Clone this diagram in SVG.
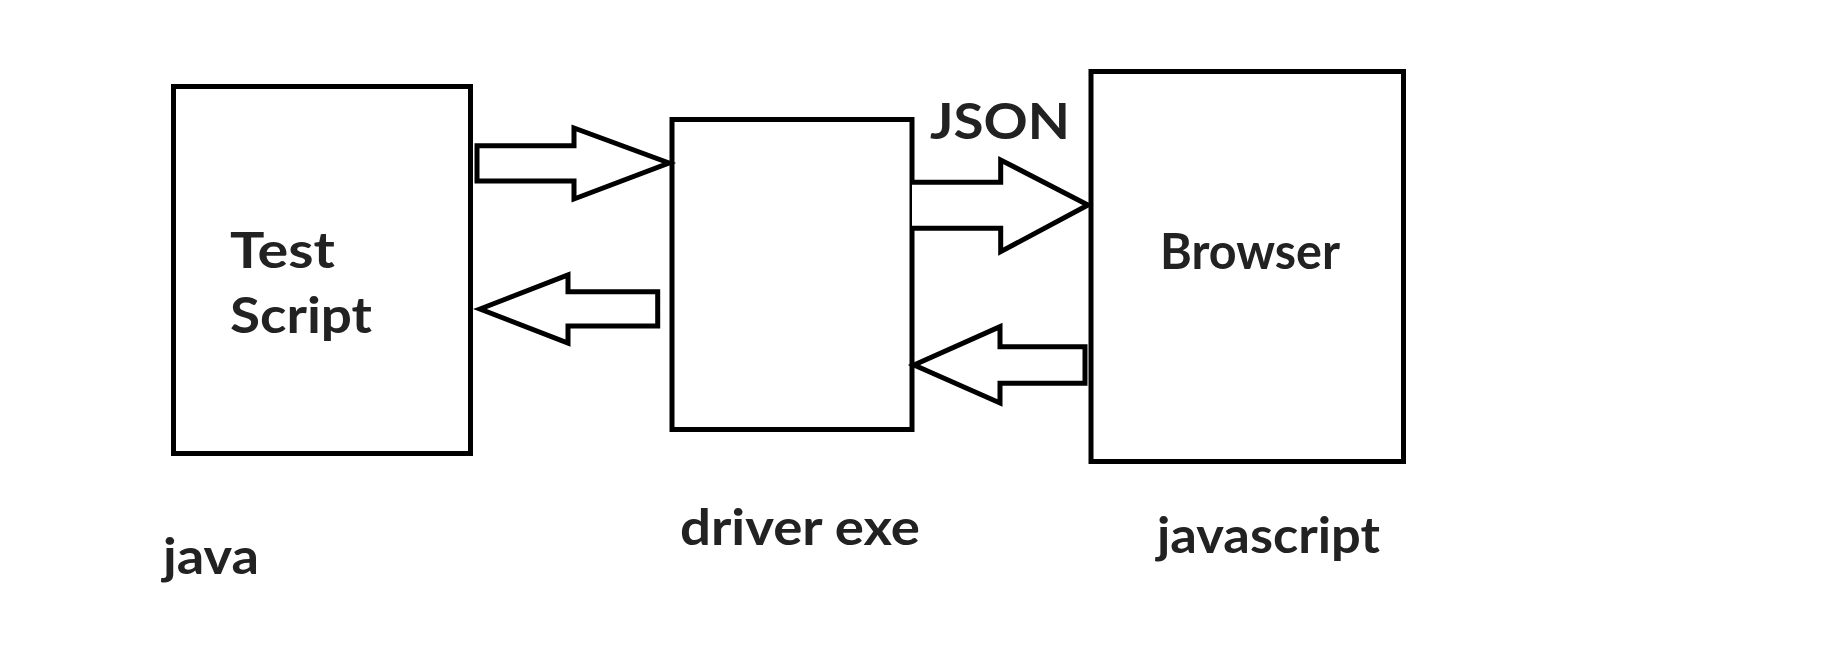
<svg xmlns="http://www.w3.org/2000/svg" width="1828" height="648" viewBox="0 0 1828 648">
<style>
.box{fill:#fff;stroke:#000;stroke-width:5}
.arr{fill:#fff;stroke:#000;stroke-width:5;stroke-linejoin:miter}
.lbl{font-family:"Lato","Noto Sans","DejaVu Sans",sans-serif;font-weight:700;font-size:49px;fill:#222}
</style>
<rect width="1828" height="648" fill="#fff"/>
<g id="node-test-script">
<rect class="box" x="173.5" y="86.5" width="297" height="367"/>
<text class="lbl" x="230" y="268" textLength="105" lengthAdjust="spacingAndGlyphs">Test</text>
<text class="lbl" x="230" y="333" textLength="142" lengthAdjust="spacingAndGlyphs">Script</text>
</g>
<g id="node-driver">
<rect class="box" x="672" y="119.5" width="240" height="310"/>
</g>
<g id="node-browser">
<rect class="box" x="1091" y="71.5" width="312.5" height="390"/>
<text class="lbl" x="1160" y="269" textLength="180" lengthAdjust="spacingAndGlyphs">Browser</text>
</g>
<g id="connectors">
<polygon class="arr" points="477,145.7 574,145.7 574,128 669,163 574,199 574,181 477,181"/>
<polygon class="arr" points="480,309 568,275 568,291.7 657.7,291.7 657.7,326 568,326 568,343"/>
<polyline class="arr" points="912,182.3 1000.7,182.3 1000.7,160 1088,205 1000.7,251.7 1000.7,228.3 912,228.3"/>
<polygon class="arr" points="914,365 1000,326.7 1000,346.7 1085,346.7 1085,383.3 1000,383.3 1000,403"/>
</g>
<g id="labels">
<text class="lbl" x="930" y="139" textLength="140" lengthAdjust="spacingAndGlyphs">JSON</text>
<text class="lbl" x="680" y="545" textLength="240" lengthAdjust="spacingAndGlyphs">driver exe</text>
<text class="lbl" x="163" y="574" textLength="96" lengthAdjust="spacingAndGlyphs">java</text>
<text class="lbl" x="1157" y="553" textLength="223" lengthAdjust="spacingAndGlyphs">javascript</text>
</g>
</svg>
